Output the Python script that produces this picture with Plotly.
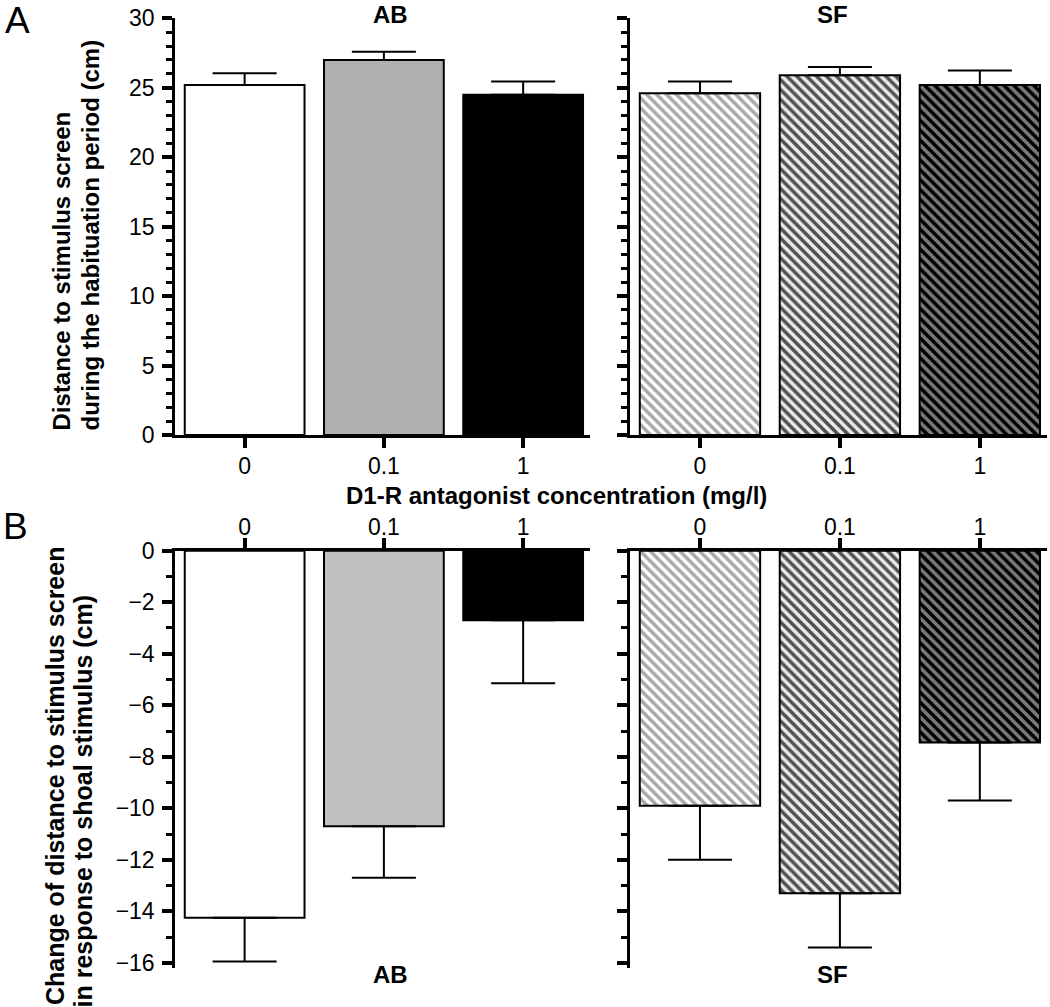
import plotly.graph_objects as go

# ---- data ----
categories = ["0", "0.1", "1"]
ab_hab = [25.2, 27.0, 24.5]
ab_hab_err = [0.85, 0.6, 0.95]
sf_hab = [24.6, 25.9, 25.2]
sf_hab_err = [0.85, 0.6, 1.05]
ab_chg = [-14.25, -10.7, -2.7]
ab_chg_err = [1.7, 2.0, 2.45]
sf_chg = [-9.9, -13.3, -7.45]
sf_chg_err = [2.1, 2.1, 2.25]

W, H = 1050, 1007
FONT = "Liberation Sans, Arial, sans-serif"


def px(x):
    return x / W


def py(y):
    return 1 - y / H


ab_top_colors = ["white", "#b0b0b0", "black"]
ab_bot_colors = ["white", "#c0c0c0", "black"]
sf_bg = ["white", "#ececec", "#7a7a7a"]
sf_fg = ["#a8a8a8", "#505050", "#000000"]

fig = go.Figure()


def add_bars(vals, errs, xa, ya, colors=None, patterned=False, up=True):
    for i, cat in enumerate(categories):
        if patterned:
            marker = dict(color=sf_bg[i], line=dict(color="black", width=2),
                          pattern=dict(shape="\\", size=7, solidity=0.5,
                                       bgcolor=sf_bg[i], fgcolor=sf_fg[i],
                                       fillmode="replace"))
        else:
            marker = dict(color=colors[i], line=dict(color="black", width=2))
        e = [errs[i]]
        z = [0]
        fig.add_trace(go.Bar(
            x=[cat], y=[vals[i]], width=0.86, xaxis=xa, yaxis=ya, marker=marker,
            error_y=dict(type="data", symmetric=False,
                         array=e if up else z, arrayminus=z if up else e,
                         width=32, thickness=2, color="black"),
            showlegend=False))


add_bars(ab_hab, ab_hab_err, "x", "y", colors=ab_top_colors, up=True)
add_bars(sf_hab, sf_hab_err, "x2", "y2", patterned=True, up=True)
add_bars(ab_chg, ab_chg_err, "x3", "y3", colors=ab_bot_colors, up=False)
add_bars(sf_chg, sf_chg_err, "x4", "y4", patterned=True, up=False)

tickfont = dict(family=FONT, size=23, color="black")


def xax(domain, anchor, side, standoff):
    return dict(domain=domain, anchor=anchor, side=side, type="category",
                categoryorder="array", categoryarray=categories,
                range=[-0.5, 2.48], showline=True, linecolor="black", linewidth=2.5,
                ticks="outside", ticklen=10, tickwidth=4, tickcolor="black",
                showgrid=False, zeroline=False, tickfont=tickfont,
                ticklabelstandoff=standoff, fixedrange=True, automargin=False)


def yax(domain, anchor, rng, dtick, labels):
    return dict(domain=domain, anchor=anchor, range=rng, dtick=dtick, tick0=0,
                showline=True, linecolor="black", linewidth=2.5,
                ticks="outside", ticklen=10, tickwidth=4, tickcolor="black",
                minor=dict(dtick=1, ticks="outside", ticklen=6, tickwidth=3,
                           tickcolor="black", showgrid=False),
                showgrid=False, zeroline=False, showticklabels=labels,
                tickfont=tickfont, ticklabelstandoff=3, fixedrange=True,
                automargin=False)


top_dom = [py(435), py(18.3)]
bot_dom = [py(968), py(550.7)]
left_dom = [px(175), px(590)]
right_dom = [px(630), px(1047)]

fig.update_layout(
    width=W, height=H, autosize=False,
    margin=dict(l=0, r=0, t=0, b=0, pad=0, autoexpand=False),
    paper_bgcolor="white", plot_bgcolor="white",
    font=dict(family=FONT, color="black"),
    barmode="overlay", showlegend=False,
    xaxis=xax(left_dom, "y", "bottom", -1),
    yaxis=yax(top_dom, "x", [0, 30], 5, True),
    xaxis2=xax(right_dom, "y2", "bottom", -1),
    yaxis2=yax(top_dom, "x2", [0, 30], 5, False),
    xaxis3=xax(left_dom, "y3", "top", -6),
    yaxis3=yax(bot_dom, "x3", [-16.2, 0], 2, True),
    xaxis4=xax(right_dom, "y4", "top", -6),
    yaxis4=yax(bot_dom, "x4", [-16.2, 0], 2, False),
)

bold = dict(family=FONT, size=24, color="black")
bold25 = dict(family=FONT, size=25, color="black")
ann = []


def text(t, x, y, xa="center", ya="middle", font=bold, angle=0):
    ann.append(dict(text=t, x=px(x), y=py(y), xref="paper", yref="paper",
                    xanchor=xa, yanchor=ya, showarrow=False, font=font,
                    textangle=angle))


text("<b>AB</b>", 390, 15)
text("<b>SF</b>", 832, 15)
text("<b>AB</b>", 390, 974)
text("<b>SF</b>", 832, 974)
text("<b>D1-R antagonist concentration (mg/l)</b>", 556, 495)
text("A", 3, 20, xa="left", font=dict(family=FONT, size=37, color="black"))
text("B", 1, 526, xa="left", font=dict(family=FONT, size=37, color="black"))
text("<b>Distance to stimulus screen</b>", 61, 433, ya="bottom", angle=-90)
text("<b>during the habituation period (cm)</b>", 90, 433, ya="bottom", angle=-90)
text("<b>Change of distance to stimulus screen</b>", 55, 545, ya="top",
     font=bold25, angle=-90)
text("<b>in response to shoal stimulus (cm)</b>", 82, 593, ya="top",
     font=bold25, angle=-90)

fig.update_layout(annotations=ann)
fig.write_html("out.html",
               config={"displayModeBar": False},
               post_script="document.body.style.margin='0';"
                           "document.body.style.overflow='hidden';")
